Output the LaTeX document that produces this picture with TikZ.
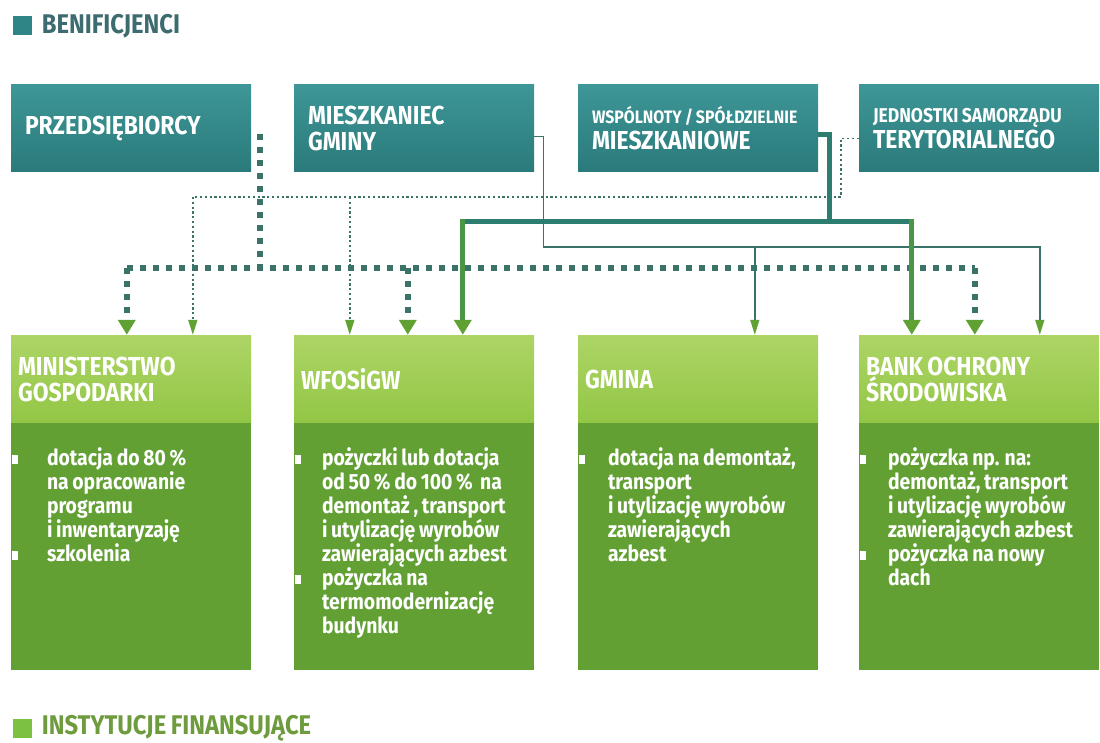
\documentclass[tikz,border=0pt]{standalone}
\usepackage{fontspec}
\setmainfont{Fira Sans}[FakeStretch=0.88, WordSpace=0.8]
\usetikzlibrary{arrows.meta,positioning,calc}

\definecolor{tealtop}{HTML}{3E9696}
\definecolor{tealbot}{HTML}{2A7A7B}
\definecolor{lgtop}{HTML}{ADD566}
\definecolor{lgbot}{HTML}{92C645}
\definecolor{dgreen}{HTML}{62A034}
\definecolor{dotc}{HTML}{3C7369}
\definecolor{linec}{HTML}{3A7168}
\definecolor{thickc}{HTML}{2C7C70}
\definecolor{dropc}{HTML}{4A9643}
\definecolor{tipc}{HTML}{5FA132}
\definecolor{legteal}{HTML}{2F8585}
\definecolor{legtealtxt}{HTML}{3D6C70}
\definecolor{leggreen}{HTML}{7DC142}
\definecolor{leggreentxt}{HTML}{6F9B3F}

% bullet on the left edge of a body box
\newcommand{\bul}[1]{\llap{\rule[1pt]{6pt}{9pt}\hspace{#1}}}

\tikzset{
  topbox/.style={rectangle, top color=tealtop, bottom color=tealbot, minimum width=240pt,
    minimum height=87pt, text width=212pt, inner xsep=14pt, align=flush left, text=white,
    font=\fontsize{26}{26}\selectfont\bfseries},
  headbox/.style={rectangle, top color=lgtop, bottom color=lgbot, minimum width=240pt,
    minimum height=88pt, text width=226pt, inner xsep=7pt, align=flush left, text=white,
    font=\fontsize{26}{26}\selectfont\bfseries},
  bodybox/.style={rectangle, fill=dgreen, minimum width=240pt, minimum height=247pt, anchor=north},
  bodytxt/.style={anchor=north west, inner sep=0pt, align=left, text=white,
    font=\fontsize{22}{24}\selectfont\bfseries},
  legtxt/.style={inner sep=0pt, font=\fontsize{27}{27}\selectfont\bfseries},
  thickdot/.style={draw=dotc, line width=6pt, dash pattern=on 6pt off 7pt},
  thindot/.style={draw=dotc, line width=1.6pt, dash pattern=on 2.2pt off 2.6pt},
  thickline/.style={draw=thickc, line width=5pt},
  thinline/.style={draw=linec, line width=1.4pt},
  bigtip/.style={-{Triangle[width=17pt,length=15pt,color=tipc]}},
  smalltip/.style={-{Triangle[width=9pt,length=15pt,color=tipc]}},
}

\begin{document}
\begin{tikzpicture}[x=1pt,y=-1pt]
  \fill[white] (0,0) rectangle (1100,743);
  \useasboundingbox (0,0) rectangle (1100,743);

  % legend
  \node[fill=legteal, minimum size=19pt, inner sep=0pt] (legB) at (22,26) {};
  \node[legtxt, text=legtealtxt, right=10pt of legB] (legBt) {BENIFICJENCI};
  \node[fill=leggreen, minimum size=19pt, inner sep=0pt] (legI) at (22,728) {};
  \node[legtxt, text=leggreentxt, right=10pt of legI] (legIt) {INSTYTUCJE FINANSUJĄCE};

  % beneficjenci
  \node[topbox] (przed) at (131,128.5) {PRZEDSIĘBIORCY};
  \node[topbox] (mieszk) at (414,128.5) {MIESZKANIEC\\GMINY};
  \node[topbox] (wspol) at (698,128.5) {{\fontsize{18}{18}\selectfont WSPÓLNOTY / SPÓŁDZIELNIE}\\MIESZKANIOWE};
  \node[topbox] (jst) at (979,128.5) {{\fontsize{20}{20}\selectfont JEDNOSTKI SAMORZĄDU}\\TERYTORIALNEGO};

  % instytucje finansujace
  \foreach \n/\x/\t in {minist/131/{MINISTERSTWO\\GOSPODARKI}, wfos/414/WFOSiGW,
                        gmina/698/GMINA, bank/979/{BANK OCHRONY\\ŚRODOWISKA}} {
    \node[headbox] (\n) at (\x,379) {\t};
    \node[bodybox] (\n-b) at (\n.south) {};
  }

  \node[bodytxt] (minist-t) at ([xshift=36pt,yshift=-24pt]minist-b.north west)
    {\bul{29pt}dotacja do 80 \%\\na opracowanie\\programu\\i inwentaryzaję\\\bul{29pt}szkolenia};
  \node[bodytxt] (wfos-t) at ([xshift=28pt,yshift=-24pt]wfos-b.north west)
    {\bul{21pt}pożyczki lub dotacja\\od 50 \% do 100 \%~ na\\demontaż , transport\\i utylizację wyrobów\\zawierających azbest\\\bul{21pt}pożyczka na\\termomodernizację\\budynku};
  \node[bodytxt] (gmina-t) at ([xshift=30pt,yshift=-24pt]gmina-b.north west)
    {\bul{23pt}dotacja na demontaż,\\transport\\i utylizację wyrobów\\zawierających\\azbest};
  \node[bodytxt] (bank-t) at ([xshift=29pt,yshift=-24pt]bank-b.north west)
    {\bul{22pt}pożyczka np. na:\\demontaż, transport\\i utylizację wyrobów\\zawierających azbest\\\bul{22pt}pożyczka na nowy\\dach};

  % arrow targets on the boxes
  \coordinate (tM1) at ([xshift=116pt]minist.north west);
  \coordinate (tM2) at ([xshift=182pt]minist.north west);
  \coordinate (tW1) at ([xshift=56pt]wfos.north west);
  \coordinate (tW2) at ([xshift=114pt]wfos.north west);
  \coordinate (tW3) at ([xshift=169pt]wfos.north west);
  \coordinate (tG1) at ([xshift=177pt]gmina.north west);
  \coordinate (tB1) at ([xshift=53pt]bank.north west);
  \coordinate (tB2) at ([xshift=116pt]bank.north west);
  \coordinate (tB3) at ([xshift=181pt]bank.north west);
  % levels of the buses
  \coordinate (yDots) at (0,197);
  \coordinate (yThick) at (0,222);
  \coordinate (yThin) at (0,247);
  \coordinate (yBig) at (0,268);

  % przedsiebiorcy
  \coordinate (pz) at ([xshift=9pt,yshift=-6pt]przed.east);
  \draw[thickdot] (pz) -- (pz |- yBig);
  \draw[thickdot] (tM1 |- yBig) -- (tB2 |- yBig);
  \foreach \t in {tM1,tW2,tB2}
    \draw[thickdot,bigtip] (\t |- yBig) -- (\t);

  % jednostki samorzadu
  \draw[thindot] ([yshift=-10pt]jst.west) -- ++(-18,0) |- (tM2 |- yDots);
  \foreach \t in {tM2,tW1}
    \draw[thindot,smalltip] (\t |- yDots) -- (\t);

  % mieszkaniec gminy
  \draw[thinline,smalltip] ([yshift=-8pt]mieszk.east) -- ++(9,0) |- (tG1 |- yThin) -| (tB3);
  \draw[thinline,smalltip] (tG1 |- yThin) -- (tG1);

  % wspolnoty
  \draw[thickline] ([yshift=-6pt]wspol.east) -- ++(11,0) coordinate (wk) |- (tW3 |- yThick);
  \draw[thickline] (wk |- yThick) -- (tB1 |- yThick);
  \foreach \t in {tW3,tB1}
    \draw[thickline,draw=dropc,bigtip] ($(\t |- yThick)+(0,-2.5)$) -- (\t);
\end{tikzpicture}
\end{document}
